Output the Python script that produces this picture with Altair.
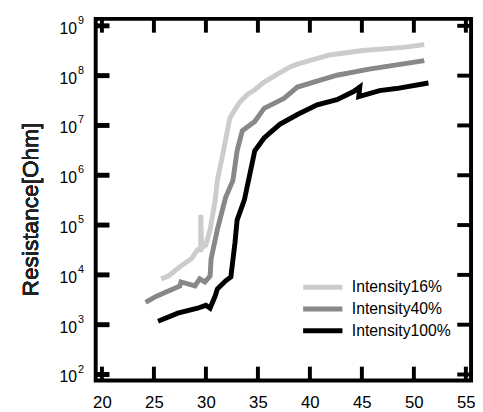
import altair as alt
import pandas as pd

series_names = ["Intensity16%", "Intensity40%", "Intensity100%"]
series_colors = ["#cccccc", "#888888", "#000000"]

light_x = [25.7, 26.4, 27.5, 28.6, 29.2, 29.5, 29.5, 29.6, 30.0, 30.4, 30.9, 31.1, 31.6, 32.3, 32.8,
           33.3, 34.0, 34.7, 35.6, 36.9, 38.1, 38.8, 41.9, 45.1, 49.0, 51.0]
light_y = [8.3e3, 9.5e3, 1.45e4, 2.1e4, 3.2e4, 3.2e4, 1.6e5, 3.5e4, 4.0e4, 8.1e4, 3.2e5, 7.9e5, 2.5e6,
           1.4e7, 2.1e7, 3.0e7, 4.2e7, 5.2e7, 7.4e7, 1.07e8, 1.5e8, 1.7e8, 2.6e8, 3.2e8, 3.7e8, 4.2e8]

mid_x = [24.2, 25.2, 27.5, 27.6, 28.95, 29.4, 29.9, 30.4, 30.5, 31.1, 31.9, 32.6, 33.0, 33.5, 34.7,
         35.6, 37.5, 38.8, 42.6, 45.7, 51.0]
mid_y = [2.8e3, 3.7e3, 6.0e3, 7.2e3, 6.0e3, 8.3e3, 7.2e3, 9.5e3, 2.1e4, 8.1e4, 3.6e5, 7.9e5, 3.1e6,
         7.8e6, 1.2e7, 2.2e7, 3.5e7, 5.9e7, 1.02e8, 1.35e8, 2.0e8]

black_x = [25.4, 27.3, 29.2, 30.0, 30.4, 30.9, 31.1, 31.9, 32.4, 32.8, 33.0, 33.7, 34.7, 35.6, 37.1,
           38.8, 40.7, 42.6, 44.2, 44.8, 44.7, 46.7, 48.3, 51.4]
black_y = [1.17e3, 1.7e3, 2.14e3, 2.45e3, 2.14e3, 3.8e3, 5.2e3, 7.6e3, 9.1e3, 4.5e4, 1.26e5, 3.2e5,
           3.1e6, 5.6e6, 1.05e7, 1.66e7, 2.6e7, 3.3e7, 4.8e7, 5.9e7, 3.8e7, 5.0e7, 5.5e7, 7.1e7]

x_ticks = [20, 25, 30, 35, 40, 45, 50, 55]
y_exponents = [2, 3, 4, 5, 6, 7, 8, 9]
y_ticks = [1e2, 1e3, 1e4, 1e5, 1e6, 1e7, 1e8, 1e9]

rows = []
for name, xs, ys in [(series_names[0], light_x, light_y),
                     (series_names[1], mid_x, mid_y),
                     (series_names[2], black_x, black_y)]:
    for i, (xv, yv) in enumerate(zip(xs, ys)):
        rows.append({"series": name, "x": xv, "y": yv, "i": i})
df = pd.DataFrame(rows)

xt = pd.DataFrame({"v": x_ticks})
yt = pd.DataFrame({"v": y_ticks, "e": [str(e) for e in y_exponents]})

W, H = 381, 367
FONT = "Liberation Sans"
xscale = alt.Scale(domain=[19.4, 55.5], nice=False, zero=False)
yscale = alt.Scale(type="log", domain=[76, 1.38e9], nice=False)

lines = alt.Chart(df).mark_line(strokeWidth=5, strokeCap="butt", clip=True).encode(
    x=alt.X("x:Q", scale=xscale,
            axis=alt.Axis(values=x_ticks, ticks=False, domain=False, grid=False, title=None,
                          labelFontSize=17, labelFont=FONT, labelColor="#000",
                          labelPadding=14)),
    y=alt.Y("y:Q", scale=yscale, axis=None),
    color=alt.Color("series:N",
                    scale=alt.Scale(domain=series_names, range=series_colors),
                    legend=alt.Legend(title=None, orient="none", legendX=218.5, legendY=260.5,
                                      symbolType="M-2.1,0H2.1", symbolSize=361,
                                      symbolStrokeWidth=5, symbolFillColor="transparent",
                                      labelFontSize=16, labelFont=FONT,
                                      labelColor="#000", rowPadding=0, labelOffset=17.5,
                                      padding=0)),
    order=alt.Order("i:Q"),
)

tick_len = 14
left_ticks = alt.Chart(yt).mark_rule(strokeWidth=5, color="black").encode(
    y=alt.Y("v:Q", scale=yscale), x=alt.value(0), x2=alt.value(tick_len))
right_ticks = alt.Chart(yt).mark_rule(strokeWidth=4, color="black").encode(
    y=alt.Y("v:Q", scale=yscale), x=alt.value(W), x2=alt.value(W - tick_len))
bottom_ticks = alt.Chart(xt).mark_rule(strokeWidth=4, color="black").encode(
    x=alt.X("v:Q", scale=xscale), y=alt.value(H), y2=alt.value(H - tick_len))
top_ticks = alt.Chart(xt).mark_rule(strokeWidth=4, color="black").encode(
    x=alt.X("v:Q", scale=xscale), y=alt.value(0), y2=alt.value(tick_len))

ten_labels = alt.Chart(yt).mark_text(align="right", baseline="middle", fontSize=16, font=FONT,
                                     dy=3, color="black").encode(
    y=alt.Y("v:Q", scale=yscale), x=alt.value(-19), text=alt.value("10"))
exp_labels = alt.Chart(yt).mark_text(align="left", baseline="middle", fontSize=11, font=FONT,
                                     dy=-5, color="black").encode(
    y=alt.Y("v:Q", scale=yscale), x=alt.value(-18), text="e:N")

title = alt.Chart(yt).mark_text(angle=270, align="center", baseline="middle", fontSize=23,
                                font=FONT, fontWeight="normal", color="#222").encode(
    x=alt.value(-66), y=alt.value(H / 2 + 10), text=alt.value("Resistance[Ohm]"))

chart = alt.layer(lines, left_ticks, right_ticks, bottom_ticks, top_ticks,
                  ten_labels, exp_labels, title).properties(
    width=W, height=H,
    autosize=alt.AutoSizeParams(type="none"),
    padding={"left": 89, "top": 8, "right": 4, "bottom": 28},
).configure_view(stroke="black", strokeWidth=4)

chart.save("out.html", embed_options={"renderer": "svg", "actions": False})
